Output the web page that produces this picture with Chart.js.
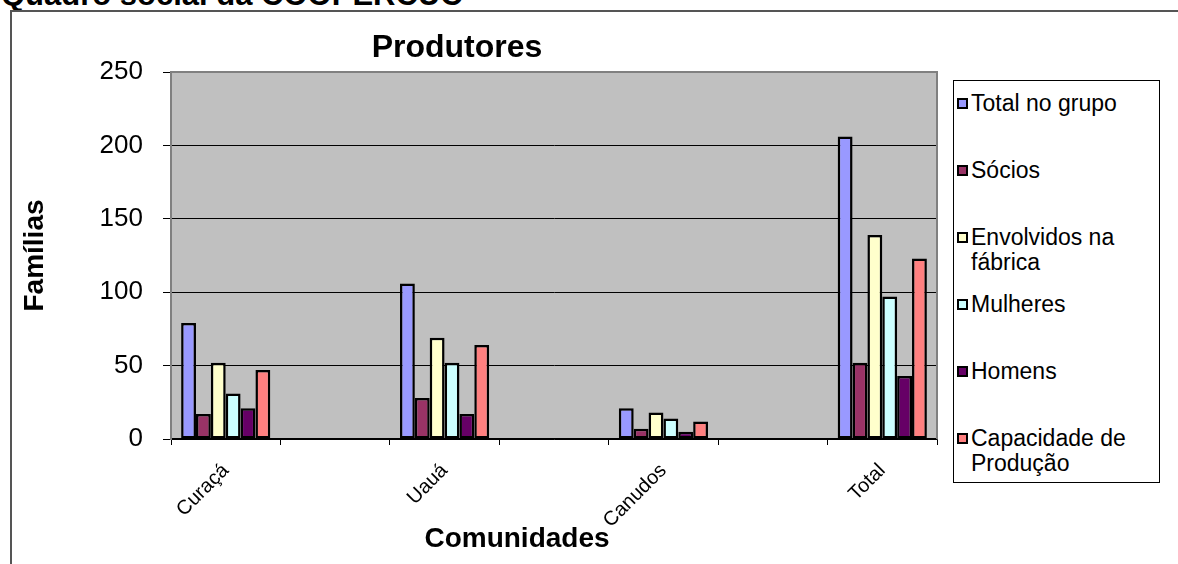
<!DOCTYPE html>
<html lang="pt">
<head>
<meta charset="utf-8">
<title>Produtores</title>
<script src="https://cdn.jsdelivr.net/npm/chart.js@4.4.1/dist/chart.umd.min.js"></script>
<style>
  html, body { margin: 0; padding: 0; background: #fff; }
  body {
    width: 1178px; height: 564px; position: relative; overflow: hidden;
    font-family: "Liberation Sans", Arial, sans-serif;
  }
  #cabecalho {
    position: absolute; left: 1px; top: -20px;
    font-weight: bold; font-size: 31px; line-height: 30px; white-space: nowrap;
  }
  #moldura {
    position: absolute; left: 10px; top: 10px; right: -10px; bottom: -10px;
    border-left: 2px solid #555; border-top: 2px solid #555;
  }
  #grafico { position: absolute; left: 0; top: 0; }
  #legenda {
    position: absolute; left: 953px; top: 80px; width: 207px; height: 403px;
    box-sizing: border-box; border: 1px solid #000; background: #fff;
    padding-top: 10px; padding-left: 3px;
  }
  .item { display: flex; align-items: flex-start; height: 67px; }
  .marca {
    width: 11px; height: 11px; box-sizing: border-box; border: 2px solid #000;
    margin-top: 7px; margin-right: 3px; flex: none;
  }
  .texto { width: 180px; font-size: 23px; line-height: 25px; color: #000; }
</style>
</head>
<body>
<div id="cabecalho">Quadro social da COOPERCUC</div>
<div id="moldura"></div>
<canvas id="grafico" width="1178" height="564"></canvas>
<div id="legenda"></div>

<script>
// Dados
const categorias = ["Curaçá", "", "Uauá", "", "Canudos", "", "Total"];
const totalNoGrupo = [79, null, 106, null, 21, null, 206];
const socios = [17, null, 28, null, 7, null, 52];
const envolvidos = [52, null, 69, null, 18, null, 139];
const mulheres = [31, null, 52, null, 14, null, 97];
const homens = [21, null, 17, null, 5, null, 43];
const capacidade = [47, null, 64, null, 12, null, 123];

const nomesSeries = [
  "Total no grupo",
  "Sócios",
  "Envolvidos na fábrica",
  "Mulheres",
  "Homens",
  "Capacidade de Produção",
];
const valoresSeries = [totalNoGrupo, socios, envolvidos, mulheres, homens, capacidade];
const coresSeries = ["#9999FF", "#993366", "#FFFFCC", "#CCFFFF", "#660066", "#FF8080"];

const tituloGrafico = "Produtores";
const tituloEixoX = "Comunidades";
const tituloEixoY = "Famílias";

const fonte = "'Liberation Sans', Arial, sans-serif";
Chart.defaults.font.family = fonte;
Chart.defaults.color = "#000";

// Fundo cinza da área e títulos
const fundoArea = {
  id: "fundoArea",
  beforeDraw(chart) {
    const { ctx, chartArea: a } = chart;
    ctx.save();
    ctx.fillStyle = "#C0C0C0";
    ctx.fillRect(a.left, a.top, a.right - a.left, a.bottom - a.top);
    ctx.restore();
  },
  afterDraw(chart) {
    const { ctx, chartArea: a } = chart;
    ctx.save();
    ctx.strokeStyle = "#808080";
    ctx.lineWidth = 2;
    ctx.beginPath();
    ctx.moveTo(a.left, a.bottom);
    ctx.lineTo(a.left, a.top);
    ctx.lineTo(a.right, a.top);
    ctx.lineTo(a.right, a.bottom);
    ctx.stroke();

    ctx.fillStyle = "#000";
    ctx.textAlign = "center";
    ctx.textBaseline = "alphabetic";
    ctx.font = "bold 32px " + fonte;
    ctx.fillText(tituloGrafico, 457, 57);
    ctx.font = "bold 28px " + fonte;
    ctx.fillText(tituloEixoX, 517, 547);
    ctx.restore();
  },
};

const conjuntos = nomesSeries.map((nome, i) => ({
  label: nome,
  data: valoresSeries[i],
  backgroundColor: coresSeries[i],
  borderColor: "#000",
  borderWidth: 2.5,
  borderSkipped: false,
  inflateAmount: 0,
  categoryPercentage: 0.815,
  barPercentage: 1,
}));

const grafico = new Chart(document.querySelector("#grafico"), {
  type: "bar",
  data: { labels: categorias, datasets: conjuntos },
  options: {
    responsive: false,
    animation: false,
    devicePixelRatio: 1,
    layout: { padding: { left: 12, right: 241, top: 72, bottom: 0 } },
    plugins: {
      legend: { display: false },
      tooltip: { enabled: false },
    },
    scales: {
      x: {
        grid: {
          drawOnChartArea: false,
          drawTicks: true,
          tickLength: 6,
          tickColor: "#000",
          color: "#000",
        },
        border: { color: "#000", width: 1.5 },
        ticks: {
          autoSkip: false,
          maxRotation: 45,
          minRotation: 45,
          padding: 14,
          font: { size: 20 },
          color: "#000",
        },
        afterFit(escala) {
          escala.height = 125;
        },
      },
      y: {
        min: 0,
        max: 250,
        ticks: { stepSize: 50, padding: 20, font: { size: 26 }, color: "#000" },
        grid: { color: "#000", lineWidth: 1, tickLength: 8, tickColor: "#000" },
        border: { color: "#808080", width: 2 },
        title: {
          display: true,
          text: tituloEixoY,
          font: { size: 28, weight: "bold" },
          color: "#000",
          padding: { top: 6, bottom: 0 },
        },
        afterFit(escala) {
          escala.width = 159;
        },
      },
    },
  },
  plugins: [fundoArea],
});

// Legenda em HTML
const legenda = document.querySelector("#legenda");
nomesSeries.forEach((nome, i) => {
  const item = document.createElement("div");
  item.className = "item";
  const marca = document.createElement("span");
  marca.className = "marca";
  marca.style.background = coresSeries[i];
  const texto = document.createElement("span");
  texto.className = "texto";
  texto.textContent = nome;
  item.appendChild(marca);
  item.appendChild(texto);
  legenda.appendChild(item);
});
</script>
</body>
</html>
